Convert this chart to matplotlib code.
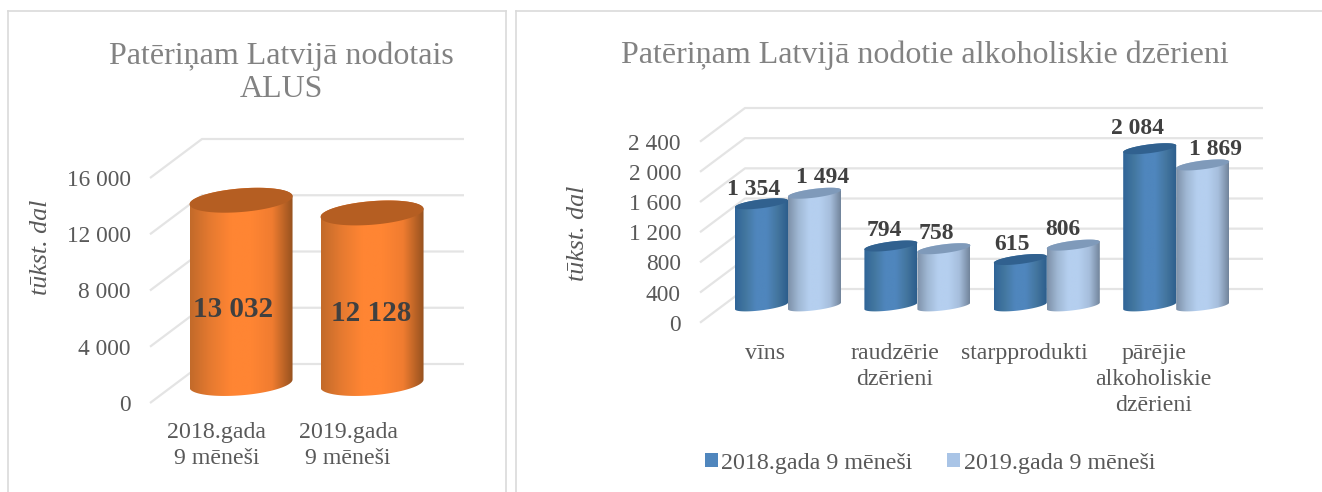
import numpy as np
import matplotlib
matplotlib.use("Agg")
import matplotlib.pyplot as plt
from matplotlib.colors import LinearSegmentedColormap
from matplotlib.lines import Line2D
from matplotlib.patches import Patch, Polygon

# ---- data ----
beer_categories = ["2018.gada\n9 mēneši", "2019.gada\n9 mēneši"]
beer_values = [13032, 12128]
beer_labels = ["13 032", "12 128"]
beer_ticks = [0, 4000, 8000, 12000, 16000]
beer_ticklabels = ["0", "4 000", "8 000", "12 000", "16 000"]

drink_categories = ["vīns", "raudzērie\ndzērieni", "starpprodukti",
                    "pārējie\nalkoholiskie\ndzērieni"]
drink_2018 = [1354, 794, 615, 2084]
drink_2019 = [1494, 758, 806, 1869]
drink_labels_2018 = ["1 354", "794", "615", "2 084"]
drink_labels_2019 = ["1 494", "758", "806", "1 869"]
drink_ticks = [0, 400, 800, 1200, 1600, 2000, 2400]
drink_ticklabels = ["0", "400", "800", "1 200", "1 600", "2 000", "2 400"]
series_names = ["2018.gada 9 mēneši", "2019.gada 9 mēneši"]

# ---- style ----
W, H = 1322, 492
plt.rcParams["font.family"] = ["Liberation Serif", "DejaVu Serif"]
GRID = "#E4E4E4"
TICK = "#595959"
TITLE = "#828282"
DARKTXT = "#404040"
ORANGE = dict(side=["#C26A2A", "#E67A30", "#FF8533", "#FF8533", "#F07C30", "#96521F"],
              top="#B55E22")
BLUE = dict(side=["#2F6498", "#43779F", "#4F86BD", "#4F86BD", "#44769F", "#2C5D8C"],
            top="#31618F")
LIGHT = dict(side=["#7D90A8", "#A0B8D4", "#B5CFEF", "#B5CFEF", "#A6BEDC", "#71849B"],
             top="#7F9ABA")

fig = plt.figure(figsize=(W / 100, H / 100), dpi=100, facecolor="white")


def chrome(x0, y0, x1, y1):
    fig.add_artist(Line2D([x0 / W, x1 / W], [1 - y0 / H, 1 - y1 / H],
                          transform=fig.transFigure, color="#DADADA", lw=1.2))


for seg in [(8, 11, 8, 492), (8, 11, 506, 11), (506, 11, 506, 492),
            (516, 11, 516, 492), (516, 11, 1322, 11)]:
    chrome(*seg)


def make_axes(px_left, px_right, px_bottom, px_top, px_per_value, slot, x0_center,
              ticks, ticklabels, categories, depth_px, ypad_px, xpad_px, xsize, ysize):
    ax = fig.add_axes([px_left / W, 1 - px_bottom / H,
                       (px_right - px_left) / W, (px_bottom - px_top) / H])
    ax.patch.set_alpha(0)
    for s in ax.spines.values():
        s.set_visible(False)
    xlim = ((px_left - x0_center) / slot, (px_right - x0_center) / slot)
    ylim = (0, (px_bottom - px_top) / px_per_value)
    dx, dv = depth_px[0] / slot, depth_px[1] / px_per_value
    for v in ticks:
        ax.plot([xlim[0], xlim[0] + dx, xlim[1]], [v, v + dv, v + dv], color=GRID,
                lw=1.6, zorder=1, clip_on=False, solid_capstyle="butt")
    ax.set_yticks(ticks, ticklabels)
    ax.set_xticks(np.arange(len(categories)), categories)
    ax.tick_params(axis="y", length=0, pad=ypad_px * 0.72, labelsize=ysize, labelcolor=TICK)
    ax.tick_params(axis="x", length=0, pad=xpad_px * 0.72, labelsize=xsize, labelcolor=TICK)
    for t in ax.get_xticklabels():
        t.set_linespacing(1.31)
    return ax, xlim, ylim, dx, dv


def cylinder(ax, xc, value, base, half_px, slot, ppv, b_px, k_px, style, z):
    a = half_px / slot
    b, k = b_px / ppv, k_px / ppv
    t_low = np.linspace(np.pi, 2 * np.pi, 80)
    t_up = np.linspace(0, np.pi, 80)
    top = base + value
    low_x, low_y = xc + a * np.cos(t_low), base + b * np.sin(t_low) + k * np.cos(t_low)
    up_x, up_y = xc + a * np.cos(t_up), top + b * np.sin(t_up) + k * np.cos(t_up)
    body = Polygon(np.c_[np.r_[low_x, up_x], np.r_[low_y, up_y]], closed=True,
                   fc="none", ec="none", zorder=z)
    ax.add_patch(body)
    cmap = LinearSegmentedColormap.from_list("c", style["side"])
    img = ax.imshow(np.linspace(0, 1, 256)[None, :], cmap=cmap, aspect="auto",
                    extent=(xc - a, xc + a, base - 2 * b - k, top + 2 * b + k),
                    zorder=z, interpolation="bilinear")
    img.set_clip_path(body)
    tt = np.linspace(0, 2 * np.pi, 160)
    ax.add_patch(Polygon(np.c_[xc + a * np.cos(tt), top + b * np.sin(tt) + k * np.cos(tt)],
                         closed=True, fc=style["top"], ec="none", zorder=z + 0.1))


# ---- left panel ----
ppv_l = 225 / 16000
slot_l = 131
ax, xl, yl, dx, dv = make_axes(150, 464, 403, 140, ppv_l, slot_l, 217, beer_ticks,
                               beer_ticklabels, beer_categories, (52, 39), 19, 19, 17.2, 16.8)
base = 19.5 / ppv_l
beer_dx = [-10, -3]
beer_dy = [-18, -15]
for i, v in enumerate(beer_values):
    cylinder(ax, i + dx / 2 - 0.015, v, base, 51.5, slot_l, ppv_l, 11.8, 4, ORANGE, 3 + i)
    ax.annotate(beer_labels[i], (i + dx / 2, base + v / 2),
                xytext=(beer_dx[i] * 0.72, beer_dy[i] * 0.72),
                textcoords="offset points", ha="center", va="center", fontsize=21,
                fontweight="bold", color=DARKTXT, zorder=10)
ax.set_xlim(xl)
ax.set_ylim(yl)
fig.text(41 / W, 1 - 247 / H, "tūkst. dal", rotation=90, style="italic", fontsize=18.7,
         color=TICK, ha="center", va="center")
fig.text(281 / W, 1 - 73 / H, "Patēriņam Latvijā nodotais\nALUS", fontsize=23,
         color=TITLE, ha="center", va="center", linespacing=1.17)

# ---- right panel ----
ppv_r = 181 / 2400
slot_r = 129.4
ax, xl, yl, dx, dv = make_axes(700, 1263, 322.7, 105, ppv_r, slot_r, 765.5, drink_ticks,
                               drink_ticklabels, drink_categories, (45, 33.7), 19, 20, 17.2, 16.8)
base = 16.8 / ppv_r
hw = 26.5 / slot_r
dx_2018 = [-8, -7, -8, -12]
dy_2018 = [14.5, 15.5, 15.5, 20.5]
dx_2019 = [8, -8, -10, 13]
dy_2019 = [15.5, 15.5, 15.5, 15.5]
for i, (a, c) in enumerate(zip(drink_2018, drink_2019)):
    xc = i + dx / 2
    cylinder(ax, xc - hw, a, base, 26.5, slot_r, ppv_r, 4.4, 3.3, BLUE, 3)
    cylinder(ax, xc + hw, c, base, 26.5, slot_r, ppv_r, 4.4, 3.3, LIGHT, 4)
    for x, val, txt, ddx, ddy in [(xc - hw, a, drink_labels_2018[i], dx_2018[i], dy_2018[i]),
                                  (xc + hw, c, drink_labels_2019[i], dx_2019[i], dy_2019[i])]:
        ax.annotate(txt, (x, base + val), xytext=(ddx * 0.72, ddy * 0.72),
                    textcoords="offset points", ha="center", va="center", fontsize=17,
                    fontweight="bold", color=DARKTXT, zorder=10, annotation_clip=False)
ax.set_xlim(xl)
ax.set_ylim(yl)
fig.text(578 / W, 1 - 233 / H, "tūkst. dal", rotation=90, style="italic", fontsize=18.7,
         color=TICK, ha="center", va="center")
fig.text(925 / W, 1 - 55 / H, "Patēriņam Latvijā nodotie alkoholiskie dzērieni", fontsize=23,
         color=TITLE, ha="center", va="center")
handles = [Patch(fc=BLUE["side"][2], ec="none"), Patch(fc="#A9C4E6", ec="none")]
fig.legend(handles, series_names, ncol=2, loc="center", bbox_to_anchor=(930 / W, 1 - 463 / H),
           frameon=False, fontsize=17.3, labelcolor=TICK, handlelength=0.54, handleheight=0.54,
           handletextpad=0.14, columnspacing=1.45)

fig.savefig("out.png", dpi=100, facecolor="white")
